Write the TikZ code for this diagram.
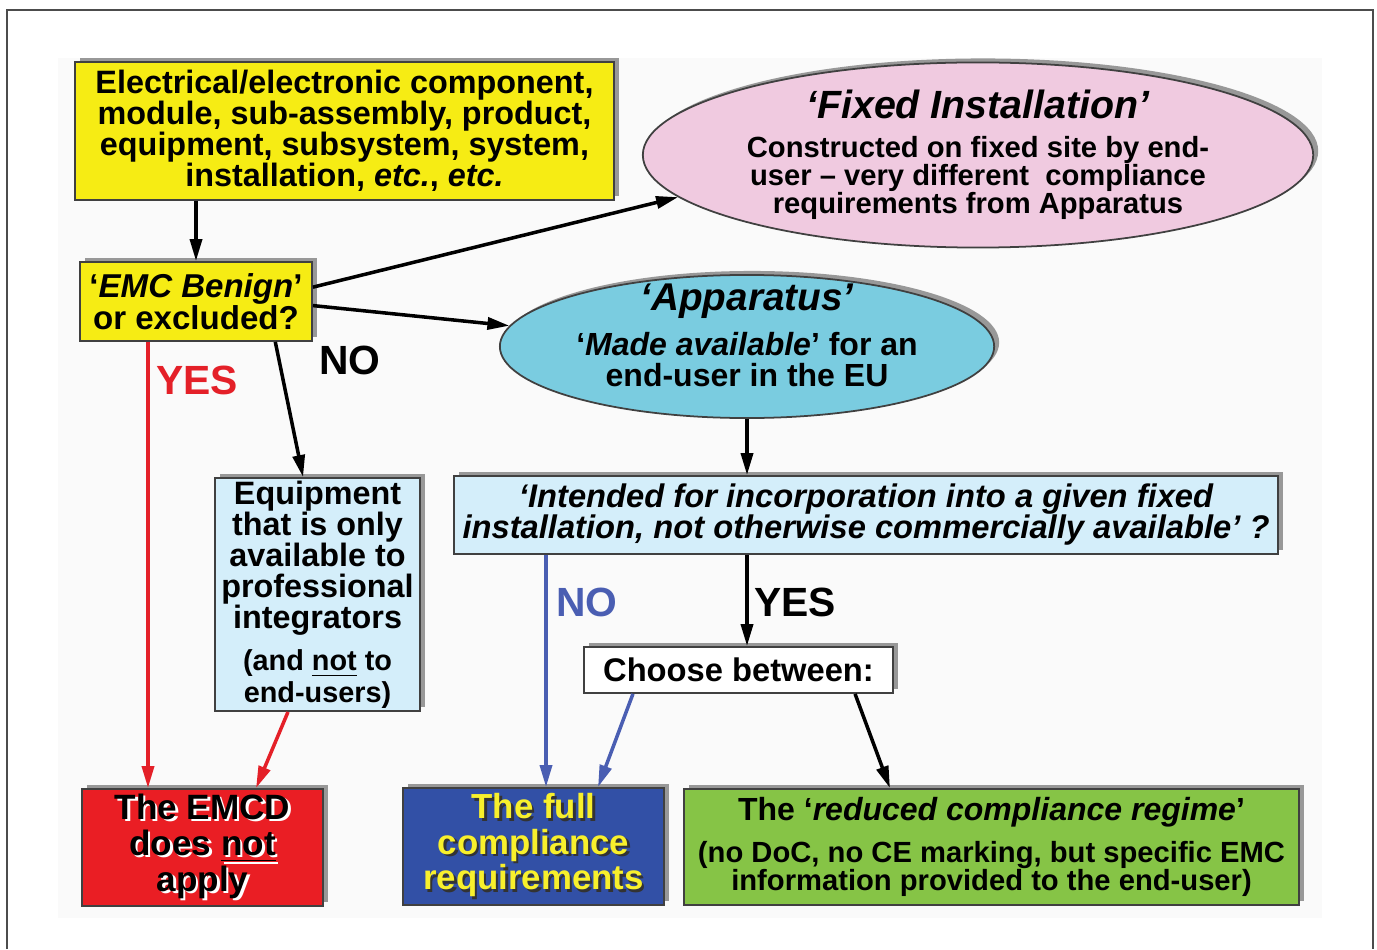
\documentclass[tikz,border=0pt]{standalone}
\usepackage{fontspec}
\setmainfont{Liberation Sans}
\usetikzlibrary{shapes.geometric,shadows,arrows.meta}
\setlength{\parindent}{0pt}

\definecolor{boxyellow}{RGB}{246,236,20}
\definecolor{fixedpink}{RGB}{240,202,224}
\definecolor{appblue}{RGB}{122,204,224}
\definecolor{paleblue}{RGB}{212,238,250}
\definecolor{emcdred}{RGB}{234,30,36}
\definecolor{fullblue}{RGB}{50,80,166}
\definecolor{rcrgreen}{RGB}{134,196,70}
\definecolor{noblue}{RGB}{74,94,178}
\definecolor{yesred}{RGB}{228,32,40}
\definecolor{textyellow}{RGB}{248,240,44}

\newcommand{\fsz}[2]{\fontsize{#1}{#2}\selectfont}
\newcommand{\shadtext}[2]{\makebox[0pt][l]{\kern0.7pt\raisebox{-0.7pt}{\color{#1}#2}}#2}

\begin{document}
\begin{tikzpicture}[x=0.01cm,y=-0.01cm,
  every node/.style={font=\bfseries},
  box/.style={rectangle,draw=black!75,line width=0.5pt,align=flush center,inner sep=0pt,
    drop shadow={shadow xshift=0.05cm,shadow yshift=0.04cm,opacity=0.8}},
  oval/.style={ellipse,draw=black!75,line width=0.5pt,align=flush center,inner sep=0pt,
    drop shadow={shadow xshift=0.05cm,shadow yshift=0.04cm,opacity=0.8}},
  flow/.style={line width=1pt,-{Triangle[length=0.22cm,width=0.12cm]}},
  answer/.style={font=\bfseries\fsz{11.6}{12}}]
\useasboundingbox (0,0) rectangle (1377,949);
\fill[black!2] (58,58) rectangle (1322,918);
\draw[black!70,line width=0.6pt] (7,949) -- (7,10) -- (1373,10) -- (1373,949);

% nodes
\node[box,fill=boxyellow,minimum width=5.39cm,minimum height=1.38cm,font=\bfseries\fsz{9.2}{8.8}]
  (start) at (344.5,131) {Electrical/electronic component,\\module, sub-assembly, product,\\equipment, subsystem, system,\\installation, \emph{etc.}, \emph{etc.}};
\node[box,fill=boxyellow,minimum width=2.32cm,minimum height=0.79cm,font=\bfseries\fsz{9.4}{9.1}]
  (emc) at (196,301.5) {‘\emph{EMC Benign}’\\or excluded?};
\node[oval,fill=fixedpink,minimum width=6.7cm,minimum height=1.85cm,text width=5.2cm,inner xsep=-0.3cm,inner ysep=-0.1cm]
  (fixed) at (978,155) {{\fsz{11.2}{12}\itshape ‘Fixed Installation’\par}\vspace{3pt}
  {\fsz{8.3}{8}Constructed on fixed site by end-\\user – very different\ \ compliance\\requirements from Apparatus\par}};
\node[oval,fill=appblue,minimum width=4.94cm,minimum height=1.43cm,text width=3.6cm,inner xsep=-0.08cm,inner ysep=-0.29cm]
  (app) at (747,346.5) {{\fsz{11}{12}\itshape ‘Apparatus’\par}\vspace{3pt}
  {\fsz{9.1}{8.8}‘\emph{Made available}’ for an\\end-user in the EU\par}\vspace{0.22cm}\hrule height 0pt};
\node[box,fill=paleblue,minimum width=2.05cm,minimum height=2.33cm,text width=2.0cm]
  (equip) at (317.5,594.5) {{\fsz{9.2}{8.8}Equipment\\that is only\\available to\\professional\\integrators\par}\vspace{4pt}
  {\fsz{8.2}{8}(and \underline{not} to\\end-users)\par}};
\node[box,fill=paleblue,minimum width=8.24cm,minimum height=0.78cm,font=\bfseries\itshape\fsz{9.3}{8.8}]
  (intended) at (866,515) {‘Intended for incorporation into a given fixed\\installation, not otherwise commercially available’ ?};
\node[box,fill=white,minimum width=3.09cm,minimum height=0.46cm,font=\bfseries\fsz{9.3}{9}]
  (choose) at (738.5,670) {Choose between:};
\node[box,fill=emcdred,minimum width=2.41cm,minimum height=1.17cm,font=\bfseries\fsz{10}{10.2}]
  (emcd) at (202.5,847.5) {\shadtext{white}{The EMCD}\\\shadtext{white}{does \underline{not}}\\\shadtext{white}{apply}};
\node[box,fill=fullblue,minimum width=2.61cm,minimum height=1.17cm,font=\bfseries\fsz{9.9}{10.1},text=textyellow]
  (full) at (533.5,846.5) {\shadtext{black!80}{The full}\\\shadtext{black!80}{compliance}\\\shadtext{black!80}{requirements}};
\node[box,fill=rcrgreen,minimum width=6.15cm,minimum height=1.16cm,text width=6.1cm]
  (reduced) at (991.5,847) {{\fsz{9.1}{9}The ‘\emph{reduced compliance regime}’\par}\vspace{4pt}
  {\fsz{8.3}{8}(no DoC, no CE marking, but specific EMC\\information provided to the end-user)\par}};

% answers
\node[answer,text=yesred] (yes1) at (197,380) {YES};
\node[answer] (no1) at (350,360) {NO};
\node[answer,text=noblue] (no2) at (587,602) {NO};
\node[answer] (yes2) at (795,602) {YES};

% connectors
\draw[flow] (emc.north |- start.south) -- (emc.north);
\draw[flow] (emc.7) -- (fixed.188);
\draw[flow] (emc.-2) -- (app.175);
\draw[flow] (emc.-27) -- (equip.97);
\draw[flow,yesred] (emc.south -| 148,0) -- (emcd.north -| 148,0);
\draw[flow,yesred] ([xshift=-0.295cm]equip.south) -- ([xshift=0.535cm]emcd.north);
\draw[flow] (app.south) -- (app.south |- intended.north);
\draw[flow] (app.south |- intended.south) -- (app.south |- choose.north);
\draw[flow,noblue] (intended.south -| 546,0) -- (full.north -| 546,0);
\draw[flow,noblue] ([xshift=-1.055cm]choose.south) -- ([xshift=0.645cm]full.north);
\draw[flow] ([xshift=1.165cm]choose.south) -- ([xshift=-1.015cm]reduced.north);
\end{tikzpicture}
\end{document}
